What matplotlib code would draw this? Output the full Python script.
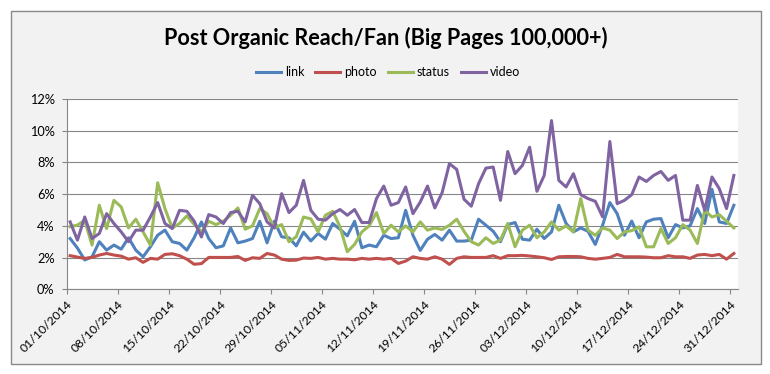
import matplotlib
matplotlib.use("Agg")
import matplotlib.pyplot as plt
from matplotlib.patches import Rectangle
from matplotlib.lines import Line2D
import numpy as np

# ---- data (values in %) : one value per day, 01/10/2014 .. 31/12/2014 ----
link = [3.20, 2.60, 1.85, 2.05, 3.00, 2.47, 2.79, 2.53, 3.25, 2.47,
        2.05, 2.68, 3.41, 3.73, 3.00, 2.89, 2.47, 3.25, 4.25, 3.20,
        2.62, 2.74, 3.87, 2.93, 3.04, 3.20, 4.29, 2.93, 4.29, 3.31,
        3.25, 2.74, 3.60, 3.05, 3.52, 3.16, 4.15, 3.79, 3.37, 4.29,
        2.62, 2.79, 2.68, 3.41, 3.20, 3.25, 4.98, 3.41, 2.45, 3.16,
        3.46, 3.10, 3.73, 3.04, 3.04, 3.10, 4.42, 4.04, 3.66, 3.00,
        4.08, 4.21, 3.16, 3.10, 3.79, 3.20, 3.62, 5.30, 4.15, 3.62,
        3.87, 3.66, 2.83, 4.04, 5.47, 4.77, 3.41, 4.30, 3.25, 4.25,
        4.42, 4.46, 3.25, 4.08, 3.87, 4.00, 5.09, 4.15, 6.30, 4.25,
        4.15, 5.30]
photo = [2.12, 2.03, 1.95, 2.01, 2.16, 2.26, 2.16, 2.09, 1.90, 1.99,
         1.70, 1.95, 1.90, 2.20, 2.24, 2.12, 1.90, 1.58, 1.62, 2.01,
         2.01, 2.01, 2.01, 2.07, 1.82, 1.99, 1.95, 2.26, 2.16, 1.90,
         1.82, 1.84, 1.97, 1.95, 2.01, 1.90, 1.95, 1.90, 1.90, 1.86,
         1.95, 1.90, 1.95, 1.90, 1.95, 1.63, 1.78, 2.05, 1.95, 1.90,
         2.05, 1.90, 1.57, 1.95, 2.05, 2.01, 2.01, 2.01, 2.12, 1.95,
         2.12, 2.12, 2.14, 2.10, 2.05, 1.99, 1.88, 2.05, 2.07, 2.07,
         2.05, 1.95, 1.90, 1.95, 2.01, 2.20, 2.05, 2.05, 2.05, 2.03,
         1.99, 1.99, 2.12, 2.05, 2.05, 1.95, 2.16, 2.20, 2.12, 2.20,
         1.90, 2.26]
status = [3.95, 4.05, 4.35, 2.79, 5.30, 3.83, 5.61, 5.19, 3.87, 4.42,
          3.62, 2.79, 6.72, 5.09, 3.87, 4.15, 4.63, 4.10, 3.62, 4.29,
          4.08, 4.29, 4.67, 5.13, 3.79, 4.00, 5.09, 4.77, 3.87, 4.08,
          3.00, 3.31, 4.56, 4.44, 3.62, 4.67, 4.92, 3.94, 2.37, 2.83,
          3.62, 4.00, 4.84, 3.52, 4.04, 3.62, 4.00, 3.62, 4.25, 3.73,
          3.87, 3.77, 4.04, 4.42, 3.66, 3.00, 2.79, 3.25, 2.89, 3.10,
          4.15, 2.68, 3.73, 4.04, 3.25, 3.62, 4.25, 3.73, 4.00, 3.62,
          5.72, 3.73, 3.41, 3.87, 3.73, 3.20, 3.62, 3.70, 3.94, 2.68,
          2.68, 3.83, 2.89, 3.25, 4.08, 3.73, 2.89, 4.98, 4.56, 4.71,
          4.29, 3.87]
video = [4.25, 3.10, 4.56, 3.20, 3.52, 4.77, 4.15, 3.62, 3.00, 3.73,
         3.73, 4.56, 5.47, 4.15, 3.83, 4.98, 4.92, 4.30, 3.30, 4.71,
         4.56, 4.15, 4.84, 4.92, 4.25, 5.93, 5.40, 4.25, 3.87, 6.03,
         4.84, 5.30, 6.87, 4.98, 4.42, 4.36, 4.77, 5.03, 4.67, 5.03,
         4.21, 4.21, 5.72, 6.51, 5.30, 5.47, 6.45, 4.77, 5.50, 6.51,
         5.13, 6.09, 7.92, 7.56, 5.68, 5.24, 6.66, 7.64, 7.71, 5.61,
         8.69, 7.29, 7.81, 8.96, 6.18, 7.18, 10.64, 6.87, 6.45, 7.29,
         5.97, 5.72, 5.55, 4.57, 9.32, 5.40, 5.61, 5.97, 7.08, 6.80,
         7.18, 7.43, 6.87, 7.18, 4.36, 4.36, 6.55, 4.98, 7.08, 6.35,
         5.09, 7.18]
series_names = ["link", "photo", "status", "video"]
tick_labels = ["01/10/2014", "08/10/2014", "15/10/2014", "22/10/2014",
               "29/10/2014", "05/11/2014", "12/11/2014", "19/11/2014",
               "26/11/2014", "03/12/2014", "10/12/2014", "17/12/2014",
               "24/12/2014", "31/12/2014"]
y_ticks = [0, 2, 4, 6, 8, 10, 12]

title = "Post Organic Reach/Fan (Big Pages 100,000+)"

colors = ["#4F81BD", "#C0504D", "#9BBB59", "#8064A2"]
grid_c = "#868686"
FONT = ["Lato", "DejaVu Sans"]
plt.rcParams["font.family"] = FONT

W, H = 770, 374
fig = plt.figure(figsize=(W / 100, H / 100), dpi=100)
fig.patch.set_facecolor("white")

# chart area frame (drawn below the axes)
fig.patches.append(Rectangle((10.5 / W, 1 - 364 / H), 750 / W, 353.5 / H,
                             transform=fig.transFigure, facecolor="#F2F2F2",
                             edgecolor="#898989", linewidth=1.0, zorder=-10))

ax = fig.add_axes([66.5 / W, 1 - 289.3 / H, 671 / W, 190.3 / H])
ax.set_zorder(1)
ax.set_facecolor("white")

n = len(link)
x = np.arange(n) + 0.5
for vals, c, name in zip([link, photo, status, video], colors, series_names):
    ax.plot(x, vals, color=c, lw=2.2, solid_joinstyle="round", label=name, zorder=3)

ax.set_xlim(0, n)
ax.set_ylim(0, 12)
ax.set_yticks(y_ticks)
ax.set_yticklabels([f"{v}%" for v in y_ticks], fontsize=9.2)
ax.set_xticks(np.arange(0, n, 7))
ax.set_xticklabels(tick_labels, rotation=45, ha="right", va="top",
                   rotation_mode="anchor", fontsize=8.8)
ax.grid(axis="y", color=grid_c, lw=0.8, zorder=1)
ax.set_axisbelow(True)
for s in ["top", "right"]:
    ax.spines[s].set_visible(False)
for s in ["left", "bottom"]:
    ax.spines[s].set_color(grid_c)
    ax.spines[s].set_linewidth(0.8)
ax.tick_params(axis="both", color=grid_c, length=3.6, width=0.8,
               labelcolor="black")
ax.tick_params(axis="y", pad=5)
ax.tick_params(axis="x", pad=3)

fig.text(385.5 / W, 1 - 38 / H, title, ha="center", va="center",
         fontsize=15.6, fontweight="bold")

handles = [Line2D([], [], color=c, lw=2.2) for c in colors]
fig.legend(handles, series_names, loc="center", bbox_to_anchor=(388 / W, 1 - 72 / H),
           ncol=4, frameon=False, fontsize=9.0, handlelength=2.0,
           handletextpad=0.3, columnspacing=0.9)

fig.savefig("out.png", dpi=100)
